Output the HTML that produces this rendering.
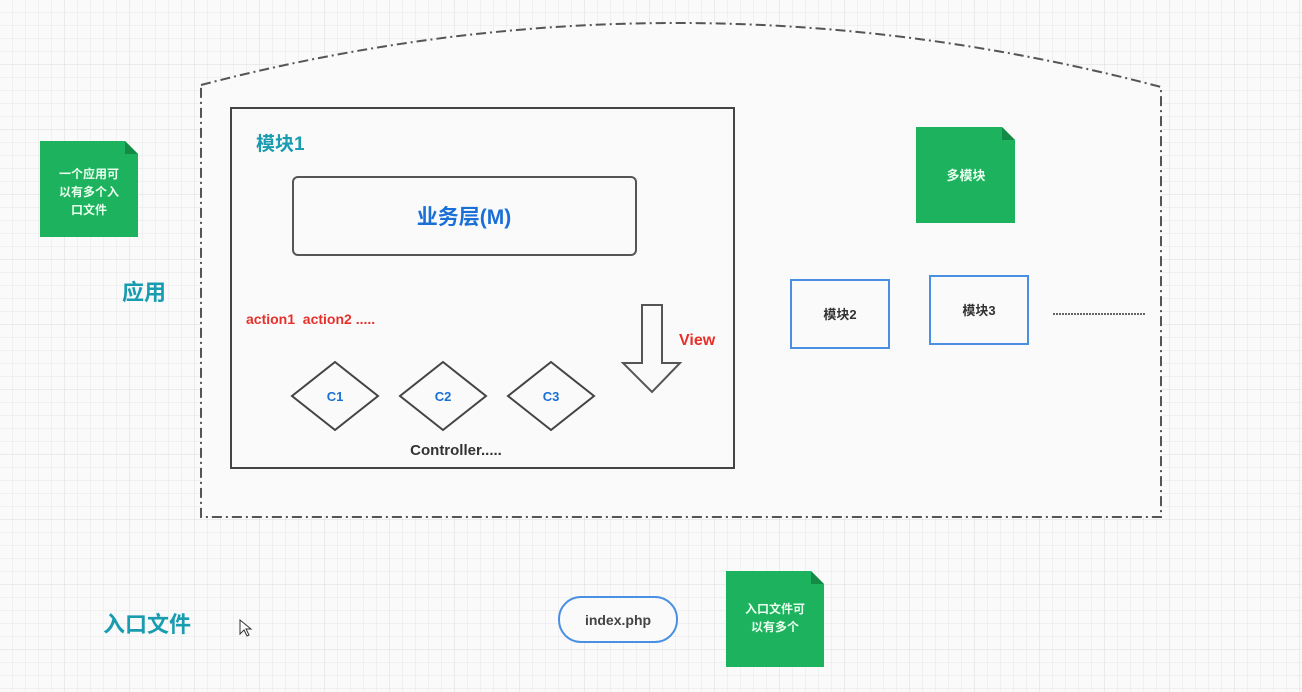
<!DOCTYPE html>
<html><head><meta charset="utf-8"><style>
body{margin:0;width:1302px;height:692px;overflow:hidden;background:#fafafa;}
svg{display:block}
text{font-family:"Liberation Sans","Noto Sans CJK SC",sans-serif;font-weight:bold}
</style></head><body>
<svg width="1302" height="692" viewBox="0 0 1302 692">
<defs>
<pattern id="g" width="13" height="13" patternUnits="userSpaceOnUse"><path d="M13 0V13H0" fill="none" stroke="#e6e6e6" stroke-width="1"/></pattern>
<pattern id="G" width="65" height="65" patternUnits="userSpaceOnUse"><path d="M65 0V65H0" fill="none" stroke="#dcdcdc" stroke-width="1"/></pattern>
</defs>
<rect width="1302" height="692" fill="url(#g)"/>
<rect width="1302" height="692" fill="url(#G)"/>
<path d="M201 85 Q680 -40 1161 87 L1161 517 L201 517 Z" fill="#fafafa" stroke="#555" stroke-width="2" stroke-dasharray="10,4,2,4"/>
<rect x="231" y="108" width="503" height="360" fill="#fafafa" stroke="#444" stroke-width="2"/>
<text x="256" y="150" font-size="19" fill="#1a9cb0">模块1</text>
<rect x="293" y="177" width="343" height="78" rx="5" fill="#fafafa" stroke="#555" stroke-width="2"/>
<text x="464" y="224" font-size="21" fill="#1a6fd6" text-anchor="middle">业务层(M)</text>
<text x="246" y="324" font-size="14" fill="#e8302a" xml:space="preserve">action1  action2 .....</text>
<path d="M642 305 H662 V363 H680 L652 392 L623 363 H642 Z" fill="#fafafa" stroke="#555" stroke-width="2"/>
<text x="679" y="345" font-size="16" fill="#e8302a">View</text>
<g fill="#fafafa" stroke="#444" stroke-width="2">
<path d="M335 362 L378 396 L335 430 L292 396 Z"/>
<path d="M443 362 L486 396 L443 430 L400 396 Z"/>
<path d="M551 362 L594 396 L551 430 L508 396 Z"/>
</g>
<g font-size="13" fill="#1a6fd6" text-anchor="middle"><text x="335" y="401">C1</text><text x="443" y="401">C2</text><text x="551" y="401">C3</text></g>
<text x="456" y="455" font-size="15" fill="#333" text-anchor="middle">Controller.....</text>
<path d="M40 141 H125 L138 154 V237 H40 Z" fill="#1db35e"/>
<path d="M125 141 L138 154 H125 Z" fill="#138a45"/>
<g font-size="12" fill="#e8ffef" text-anchor="middle"><text x="89" y="178">一个应用可</text><text x="89" y="196">以有多个入</text><text x="89" y="214">口文件</text></g>
<text x="122" y="300" font-size="22" fill="#1a9cb0">应用</text>
<path d="M916 127 H1002 L1015 140 V223 H916 Z" fill="#1db35e"/>
<path d="M1002 127 L1015 140 H1002 Z" fill="#138a45"/>
<text x="966" y="180" font-size="13" fill="#e8ffef" text-anchor="middle">多模块</text>
<rect x="791" y="280" width="98" height="68" fill="#fafafa" stroke="#4a90e2" stroke-width="2"/>
<rect x="930" y="276" width="98" height="68" fill="#fafafa" stroke="#4a90e2" stroke-width="2"/>
<text x="840" y="319" font-size="13" fill="#333" text-anchor="middle" font-weight="normal">模块2</text>
<text x="979" y="315" font-size="13" fill="#333" text-anchor="middle" font-weight="normal">模块3</text>
<line x1="1053" y1="314" x2="1145" y2="314" stroke="#666" stroke-width="2" stroke-dasharray="2,1"/>
<text x="103" y="632" font-size="22" fill="#1a9cb0">入口文件</text>
<path d="M240 620 V634 L244 630 L247 636 L249 635 L246 629 L251 629 Z" fill="#fff" stroke="#333" stroke-width="1"/>
<rect x="559" y="597" width="118" height="45" rx="22" fill="#fafafa" stroke="#4a90e2" stroke-width="2"/>
<text x="618" y="625" font-size="14" fill="#444" text-anchor="middle">index.php</text>
<path d="M726 571 H811 L824 584 V667 H726 Z" fill="#1db35e"/>
<path d="M811 571 L824 584 H811 Z" fill="#138a45"/>
<g font-size="12" fill="#e8ffef" text-anchor="middle"><text x="775" y="613">入口文件可</text><text x="775" y="631">以有多个</text></g>
</svg>
</body></html>
